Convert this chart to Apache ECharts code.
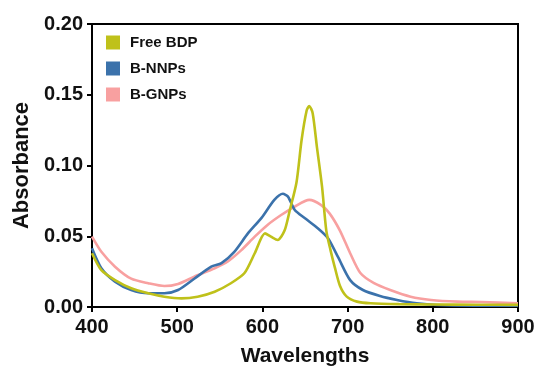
<!DOCTYPE html>
<html>
<head>
<meta charset="utf-8">
<script src="https://cdn.jsdelivr.net/npm/echarts@6/dist/echarts.min.js"></script>
<style>
html,body{margin:0;padding:0;background:#fff;}
#chart{width:539px;height:374px;}
</style>
</head>
<body>
<div id="chart"></div>
<script>
var seriesNames = ['Free BDP', 'B-NNPs', 'B-GNPs'];
var xTicks = [400, 500, 600, 700, 800, 900];
var yTicks = [0.00, 0.05, 0.10, 0.15, 0.20];

var wlBDP = [400, 411, 427, 446, 466, 485, 505, 524, 544, 563, 579, 591, 603, 610, 618, 626, 632, 640, 646, 652, 655, 659, 664, 670, 675, 680, 685, 691, 699, 711, 727, 760, 800, 850, 900];
var absBDP = [0.038, 0.026, 0.019, 0.0132, 0.0097, 0.0073, 0.0061, 0.0073, 0.0108, 0.0168, 0.024, 0.038, 0.052, 0.0497, 0.0474, 0.054, 0.068, 0.088, 0.118, 0.139, 0.142, 0.137, 0.113, 0.085, 0.054, 0.040, 0.028, 0.015, 0.0073, 0.0038, 0.0026, 0.002, 0.0018, 0.0016, 0.0015];

var wlNNP = [400, 411, 427, 446, 466, 485, 501, 520, 540, 552, 567, 583, 599, 614, 624, 630, 638, 650, 665, 677, 689, 703, 718, 738, 758, 781, 805, 850, 900];
var absNNP = [0.0415, 0.0274, 0.0179, 0.012, 0.0097, 0.0097, 0.012, 0.020, 0.0285, 0.031, 0.039, 0.052, 0.063, 0.0757, 0.080, 0.078, 0.0686, 0.0627, 0.0556, 0.0486, 0.035, 0.019, 0.012, 0.0078, 0.005, 0.0026, 0.0014, 0.001, 0.001];

var wlGNP = [400, 411, 427, 446, 466, 485, 501, 520, 544, 559, 575, 591, 606, 622, 638, 655, 669, 679, 691, 703, 715, 731, 750, 774, 798, 829, 857, 900];
var absGNP = [0.0497, 0.039, 0.0285, 0.020, 0.0168, 0.0148, 0.0163, 0.0214, 0.0274, 0.032, 0.040, 0.0497, 0.058, 0.065, 0.071, 0.0757, 0.072, 0.066, 0.054, 0.038, 0.024, 0.0168, 0.012, 0.0073, 0.005, 0.0038, 0.0035, 0.0026];

var colors = ['#bfc11a', '#3b72ab', '#f8a0a0'];

function pairs(xs, ys) { return xs.map(function (x, i) { return [x, ys[i]]; }); }

var chart = echarts.init(document.getElementById('chart'));
var font = 'Liberation Sans, Arial, sans-serif';
chart.setOption({
  animation: false,
  backgroundColor: '#fff',
  grid: { left: 92, right: 21, top: 24, bottom: 67, show: true, borderColor: '#000', borderWidth: 2, backgroundColor: 'transparent' },
  legend: {
    orient: 'vertical', left: 101, top: 30, icon: 'rect', itemWidth: 14, itemHeight: 14, itemGap: 11,
    textStyle: { fontFamily: font, fontWeight: 'bold', fontSize: 15, color: '#111', padding: [0, 0, 0, 5] },
    data: seriesNames
  },
  xAxis: {
    type: 'value', min: xTicks[0], max: xTicks[xTicks.length - 1], interval: 100,
    name: 'Wavelengths', nameLocation: 'middle', nameGap: 39,
    nameTextStyle: { fontFamily: font, fontWeight: 'bold', fontSize: 21, color: '#111' },
    axisLine: { lineStyle: { color: '#000', width: 2 } },
    axisTick: { length: 5, lineStyle: { color: '#000', width: 2 } },
    axisLabel: { margin: 10, fontFamily: font, fontWeight: 'bold', fontSize: 20, color: '#111' },
    splitLine: { show: false }
  },
  yAxis: {
    type: 'value', min: yTicks[0], max: yTicks[yTicks.length - 1], interval: 0.05,
    name: 'Absorbance', nameLocation: 'middle', nameGap: 59,
    nameTextStyle: { fontFamily: font, fontWeight: 'bold', fontSize: 22, color: '#111' },
    axisLine: { show: true, lineStyle: { color: '#000', width: 2 } },
    axisTick: { show: true, length: 5, lineStyle: { color: '#000', width: 2 } },
    axisLabel: { margin: 9, fontFamily: font, fontWeight: 'bold', fontSize: 20, color: '#111',
      formatter: function (v) { return v.toFixed(2); } },
    splitLine: { show: false }
  },
  series: [
    { name: seriesNames[0], type: 'line', data: pairs(wlBDP, absBDP), smooth: 0.25, showSymbol: false, z: 4,
      color: colors[0], lineStyle: { width: 2.6, color: colors[0] } },
    { name: seriesNames[1], type: 'line', data: pairs(wlNNP, absNNP), smooth: 0.25, showSymbol: false, z: 3,
      color: colors[1], lineStyle: { width: 2.6, color: colors[1] } },
    { name: seriesNames[2], type: 'line', data: pairs(wlGNP, absGNP), smooth: 0.25, showSymbol: false, z: 2,
      color: colors[2], lineStyle: { width: 2.6, color: colors[2] } }
  ]
});
</script>
</body>
</html>
